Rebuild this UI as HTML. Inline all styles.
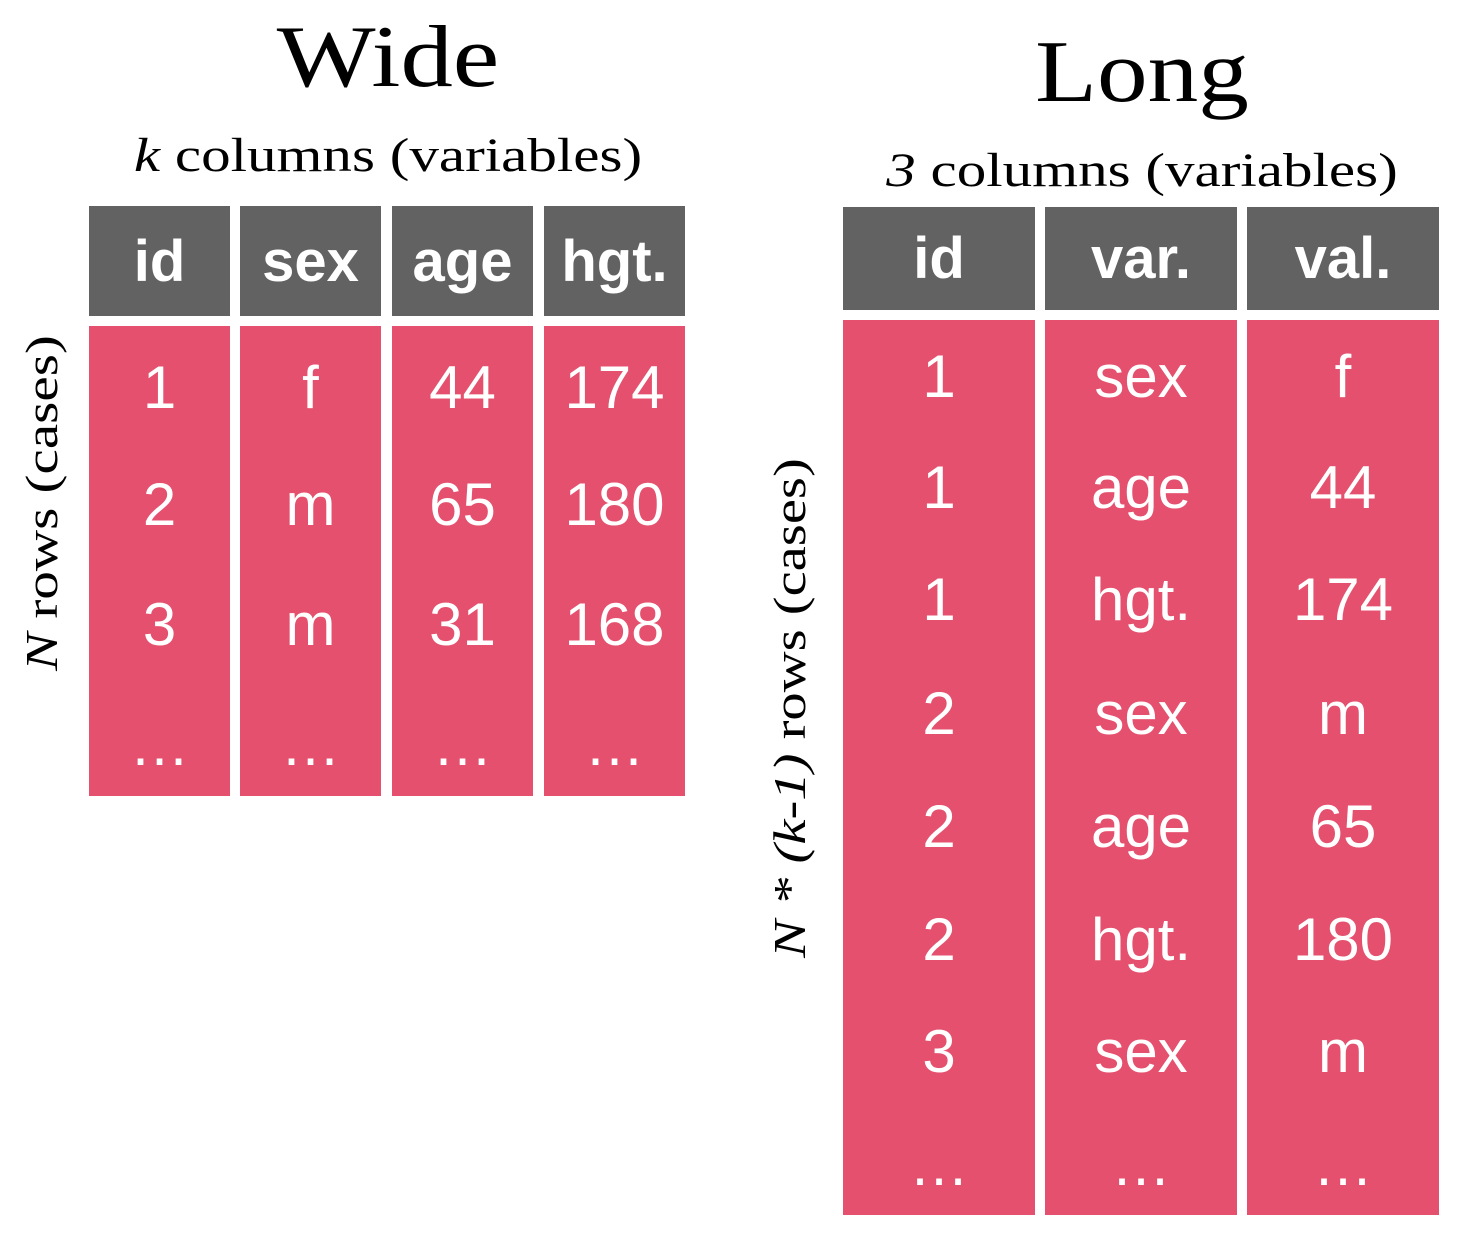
<!DOCTYPE html>
<html><head><meta charset="utf-8"><style>
html,body{margin:0;padding:0;background:#fff;}
body{width:1466px;height:1236px;position:relative;overflow:hidden;}
.t{position:absolute;font-family:"Liberation Serif","DejaVu Serif",serif;color:#000;text-align:center;white-space:nowrap;}
.c{position:absolute;}
.h{background:#626262;color:#fff;font-family:"Liberation Sans",sans-serif;font-weight:bold;font-size:58px;display:flex;align-items:center;justify-content:center;}
.b{background:#e4506d;}
.v{position:absolute;color:#fff;font-family:"Liberation Sans",sans-serif;font-size:60px;text-align:center;line-height:60px;height:60px;}
</style></head><body>
<div class="t" style="left:188px;width:400px;top:10px;font-size:88px;line-height:96px;transform:scaleX(1.19);">Wide</div>
<div class="t" style="left:88px;width:600px;top:128px;font-size:48px;line-height:56px;transform:scaleX(1.23);"><i>k</i> columns (variables)</div>
<div class="t" style="left:-158px;width:400px;top:478px;font-size:46px;line-height:50px;transform:rotate(-90deg) scaleX(1.24);"><i>N</i> rows (cases)</div>
<div class="t" style="left:942px;width:400px;top:25px;font-size:88px;line-height:96px;transform:scaleX(1.15);">Long</div>
<div class="t" style="left:842px;width:600px;top:143px;font-size:48px;line-height:56px;transform:scaleX(1.23);"><i>3</i> columns (variables)</div>
<div class="t" style="left:490px;width:600px;top:683px;font-size:46px;line-height:50px;transform:rotate(-90deg) scaleX(1.23);"><i>N * (k-1)</i> rows (cases)</div>
<div id="root"></div>
<script>
const wideHeaders=["id","sex","age","hgt."];
const wideRows=[["1","f","44","174"],["2","m","65","180"],["3","m","31","168"],["…","…","…","…"]];
const longHeaders=["id","var.","val."];
const longRows=[["1","sex","f"],["1","age","44"],["1","hgt.","174"],["2","sex","m"],["2","age","65"],["2","hgt.","180"],["3","sex","m"],["…","…","…"]];
const root=document.getElementById('root');
function table(prefix,headers,rows,xs,w,hTop,hBot,bTop,bBot,rowYs){
  headers.forEach((h,i)=>{
    const d=document.createElement('div');
    d.className='c h';
    
    
    d.style.cssText=`left:${xs[i]}px;width:${w}px;top:${hTop}px;height:${hBot-hTop}px;`;
    d.textContent=h;root.appendChild(d);
    const b=document.createElement('div');
    b.className='c b';
    
    
    b.style.cssText=`left:${xs[i]}px;width:${w}px;top:${bTop}px;height:${bBot-bTop}px;`;
    root.appendChild(b);
  });
  rows.forEach((r,j)=>r.forEach((v,i)=>{
    const d=document.createElement('div');
    d.className='v';
    
    
    d.style.cssText=`left:${xs[i]}px;width:${w}px;top:${rowYs[j]-30}px;`;
    d.textContent=v;root.appendChild(d);
  }));
}
table('wide',wideHeaders,wideRows,[89,240,392,544],141,206,316,326,796,[388,505,625,745]);
table('long',longHeaders,longRows,[843,1045,1247],192,207,310,320,1215,[377,488,600,714,827,940,1052,1165]);
</script>
</body></html>
